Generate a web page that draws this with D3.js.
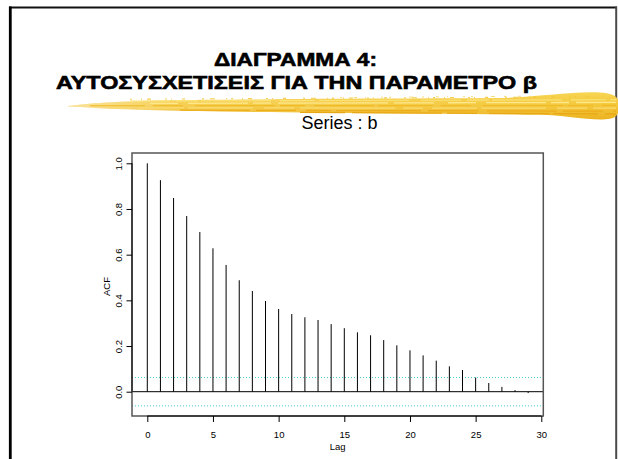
<!DOCTYPE html>
<html>
<head>
<meta charset="utf-8">
<script src="https://cdn.jsdelivr.net/npm/d3@7"></script>
<style>
  html, body { margin: 0; padding: 0; background: #fff; }
  svg { display: block; }
</style>
</head>
<body>
<script>
// Autocorrelation function of the series b, lags 0..29
const lags = [0, 1, 2, 3, 4, 5, 6, 7, 8, 9, 10, 11, 12, 13, 14, 15, 16, 17, 18, 19, 20, 21, 22, 23, 24, 25, 26, 27, 28, 29];
const acf = [1.000, 0.926, 0.848, 0.769, 0.699, 0.628, 0.555, 0.488, 0.441, 0.397,
             0.362, 0.340, 0.326, 0.314, 0.296, 0.278, 0.260, 0.247, 0.226, 0.203,
             0.181, 0.159, 0.136, 0.111, 0.095, 0.062, 0.038, 0.021, 0.007, -0.006];
// approximate 95% band (1.96 / sqrt(n))
const confBand = 0.062;
const xTicks = [0, 5, 10, 15, 20, 25, 30];
const yTicks = [0, 0.2, 0.4, 0.6, 0.8, 1.0];
const titleLines = ["ΔΙΑΓΡΑΜΜΑ 4:", "ΑΥΤΟΣΥΣΧΕΤΙΣΕΙΣ ΓΙΑ ΤΗΝ ΠΑΡΑΜΕΤΡΟ β"];
const mainTitle = "Series : b";
const xLabel = "Lag";
const yLabel = "ACF";

const W = 618, H = 459;
const FONT = "'Liberation Sans', Arial, Helvetica, sans-serif";

const svg = d3.select("body").append("svg")
  .attr("width", W).attr("height", H)
  .style("font-family", FONT);

// ---- slide frame ----
svg.append("line").attr("x1", 9).attr("x2", 617).attr("y1", 7.5).attr("y2", 7.5)
  .attr("stroke", "#111").attr("stroke-width", 2.2);
svg.append("line").attr("x1", 10.3).attr("x2", 10.3).attr("y1", 6.5).attr("y2", H)
  .attr("stroke", "#000").attr("stroke-width", 2.8);
svg.append("line").attr("x1", 616.2).attr("x2", 616.2).attr("y1", 6.5).attr("y2", H)
  .attr("stroke", "#4a4a4a").attr("stroke-width", 2);

// ---- slide heading ----
const heading = svg.append("g")
  .attr("font-weight", "bold")
  .attr("font-size", 19)
  .attr("fill", "#000")
  .attr("stroke", "#000")
  .attr("stroke-width", 0.6);
heading.append("text")
  .attr("x", 214).attr("y", 65.5)
  .attr("textLength", 163).attr("lengthAdjust", "spacingAndGlyphs")
  .text(titleLines[0]);
heading.append("text")
  .attr("x", 56).attr("y", 89)
  .attr("textLength", 481).attr("lengthAdjust", "spacingAndGlyphs")
  .text(titleLines[1]);

// ---- yellow brush stroke under the heading ----
const defs = svg.append("defs");
const grad = defs.append("linearGradient").attr("id", "brushFill")
  .attr("x1", 0).attr("y1", 0).attr("x2", 0).attr("y2", 1);
grad.append("stop").attr("offset", "0%").attr("stop-color", "#f7d552");
grad.append("stop").attr("offset", "50%").attr("stop-color", "#f4c73a");
grad.append("stop").attr("offset", "100%").attr("stop-color", "#ebb220");
const gradH = defs.append("linearGradient").attr("id", "brushFade")
  .attr("x1", 0).attr("y1", 0).attr("x2", 1).attr("y2", 0);
gradH.append("stop").attr("offset", "0%").attr("stop-color", "#fff").attr("stop-opacity", 0.5);
gradH.append("stop").attr("offset", "20%").attr("stop-color", "#fff").attr("stop-opacity", 0.12);
gradH.append("stop").attr("offset", "100%").attr("stop-color", "#fff").attr("stop-opacity", 0);

const brush = svg.append("g");
const curve = d3.line().curve(d3.curveCatmullRom);
const topEdge = [[68, 106], [100, 103], [160, 100.5], [260, 99.4], [380, 98.6], [500, 98], [616, 97]];
const botEdge = [[616, 116], [540, 114.8], [430, 113.8], [320, 112.8], [220, 111.6], [140, 109.8], [95, 108], [68, 106.6]];
const bodyPath = curve(topEdge.concat(botEdge)) + "Z";
brush.append("path").attr("d", bodyPath).attr("fill", "url(#brushFill)");
brush.append("path").attr("d", bodyPath).attr("fill", "url(#brushFade)");
// bristle streaks
const streaks = [
  { y0: 101.0, y1: 99.8, x0: 130, color: "#fbe37a", w: 1.1, dash: "40 6 22 3 70 9 35 4 90 12" },
  { y0: 103.4, y1: 102.4, x0: 150, color: "#fde88c", w: 1.3, dash: "28 10 60 5 18 7 110 6 40 14" },
  { y0: 105.8, y1: 105.4, x0: 90, color: "#f0bb24", w: 1.1, dash: "55 8 30 12 80 5 25 9 60 4" },
  { y0: 107.8, y1: 108.2, x0: 110, color: "#fadc72", w: 1.2, dash: "20 9 45 4 65 11 30 6 95 8" },
  { y0: 110.2, y1: 111.2, x0: 180, color: "#edae1c", w: 1.3, dash: "70 6 40 10 25 5 85 7 50 9" },
  { y0: 112.4, y1: 114.0, x0: 300, color: "#e8a816", w: 1.3, dash: "45 7 90 5 30 12 60 4" }
];
streaks.forEach(s => {
  brush.append("line")
    .attr("x1", s.x0).attr("x2", 616)
    .attr("y1", s.y0).attr("y2", s.y1)
    .attr("stroke", s.color).attr("stroke-width", s.w)
    .attr("stroke-dasharray", s.dash);
});
// dry-brush flecks along the upper edge
brush.append("line")
  .attr("x1", 130).attr("x2", 600).attr("y1", 99.2).attr("y2", 96.8)
  .attr("stroke", "#f3c63a").attr("stroke-width", 1.1).attr("opacity", 0.85)
  .attr("stroke-dasharray", "2 9 1 5 4 14 2 4 1 10 3 17 2 6 5 11 1 4");
brush.append("line")
  .attr("x1", 340).attr("x2", 590).attr("y1", 97.6).attr("y2", 95.8)
  .attr("stroke", "#f5cf4a").attr("stroke-width", 0.9).attr("opacity", 0.8)
  .attr("stroke-dasharray", "2 12 3 8 1 15 2 6 2 18 4 9");

// ---- ACF plot ----
const x = d3.scaleLinear().domain([-1.165, 30.152]).range([132, 543.3]);
const y = d3.scaleLinear().domain([-0.1064, 1.0451]).range([416, 153]);

// main title
svg.append("text")
  .attr("x", 339.5).attr("y", 128.8)
  .attr("text-anchor", "middle")
  .attr("font-size", 18)
  .attr("fill", "#000")
  .text(mainTitle);

// confidence band
svg.append("g").selectAll("line")
  .data([confBand, -confBand])
  .join("line")
  .attr("x1", x.range()[0]).attr("x2", x.range()[1])
  .attr("y1", d => y(d)).attr("y2", d => y(d))
  .attr("stroke", "#3ccfd2").attr("stroke-width", 1)
  .attr("stroke-dasharray", "1 2");

// zero line
svg.append("line")
  .attr("x1", x.range()[0]).attr("x2", x.range()[1])
  .attr("y1", y(0)).attr("y2", y(0))
  .attr("stroke", "#000").attr("stroke-width", 1);

// vertical ACF spikes
svg.append("g").selectAll("line")
  .data(lags.map((l, i) => ({ lag: l, v: acf[i] })))
  .join("line")
  .attr("x1", d => x(d.lag)).attr("x2", d => x(d.lag))
  .attr("y1", y(0)).attr("y2", d => y(d.v))
  .attr("stroke", "#000").attr("stroke-width", 1);

// plot frame
svg.append("rect")
  .attr("x", x.range()[0]).attr("y", y.range()[1])
  .attr("width", x.range()[1] - x.range()[0])
  .attr("height", y.range()[0] - y.range()[1])
  .attr("fill", "none").attr("stroke", "#555").attr("stroke-width", 1.5);

// x axis
const xAxis = svg.append("g")
  .attr("transform", `translate(0,${y.range()[0]})`)
  .call(d3.axisBottom(x).tickValues(xTicks).tickSize(6).tickPadding(9).tickFormat(d3.format("d")));
xAxis.select(".domain").remove();
xAxis.append("line")
  .attr("x1", x(xTicks[0])).attr("x2", x(xTicks[xTicks.length - 1]))
  .attr("stroke", "#000").attr("stroke-width", 1);
xAxis.selectAll(".tick line").attr("stroke", "#000");
xAxis.selectAll("text").attr("font-size", 9.5).attr("font-family", FONT).attr("fill", "#000");

// y axis with rotated labels
const yAxis = svg.append("g")
  .attr("transform", `translate(${x.range()[0]},0)`)
  .call(d3.axisLeft(y).tickValues(yTicks).tickSize(5.5).tickFormat(d3.format(".1f")));
yAxis.select(".domain").remove();
yAxis.append("line")
  .attr("y1", y(yTicks[0])).attr("y2", y(yTicks[yTicks.length - 1]))
  .attr("stroke", "#000").attr("stroke-width", 1);
yAxis.selectAll(".tick line").attr("stroke", "#000");
yAxis.selectAll("text")
  .attr("font-size", 9.5).attr("font-family", FONT).attr("fill", "#000")
  .attr("x", 0).attr("y", -10.4).attr("dy", null)
  .attr("text-anchor", "middle")
  .attr("transform", "rotate(-90)");

// axis titles
svg.append("text")
  .attr("x", (x.range()[0] + x.range()[1]) / 2).attr("y", 449.5)
  .attr("text-anchor", "middle").attr("font-size", 9.5).attr("fill", "#000")
  .text(xLabel);
svg.append("text")
  .attr("transform", `translate(110,${(y.range()[0] + y.range()[1]) / 2 + 2}) rotate(-90)`)
  .attr("text-anchor", "middle").attr("font-size", 9.5).attr("fill", "#000")
  .text(yLabel);
</script>
</body>
</html>
